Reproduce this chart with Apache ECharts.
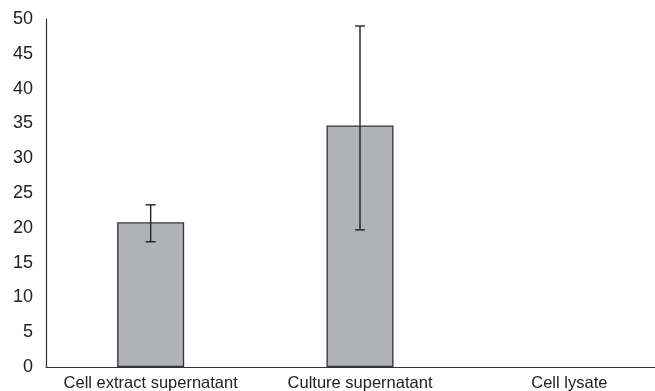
<!DOCTYPE html>
<html>
<head>
<meta charset="utf-8">
<script src="https://cdn.jsdelivr.net/npm/echarts@6/dist/echarts.min.js"></script>
<style>
  html, body { margin: 0; padding: 0; background: #fff; }
  #chart { width: 655px; height: 391px; }
</style>
</head>
<body>
<div id="chart"></div>
<script>
// Sample groups and their mean values with low/high error limits
const categories = ['Cell extract supernatant', 'Culture supernatant', 'Cell lysate'];
const means = [20.8, 34.7, 0];
const errLow = [18.0, 19.7, null];
const errHigh = [23.3, 49.0, null];
const yTicks = [0, 5, 10, 15, 20, 25, 30, 35, 40, 45, 50];

const errorData = categories.map((c, i) => [i, errLow[i], errHigh[i]]).filter(d => d[1] != null);
// a zero-height bar gets no outline
const barData = means.map(v => v === 0 ? { value: v, itemStyle: { borderWidth: 0 } } : v);

const chart = echarts.init(document.getElementById('chart'), null, { renderer: 'canvas' });

chart.setOption({
  animation: false,
  backgroundColor: '#ffffff',
  textStyle: { fontFamily: 'Liberation Sans, Arial, sans-serif' },
  grid: { left: 46, width: 628, top: 19, height: 348, containLabel: false, outerBoundsMode: 'none' },
  xAxis: {
    type: 'category',
    data: categories,
    axisLine: { show: true, lineStyle: { color: '#333', width: 1.2 } },
    axisTick: { show: false },
    axisLabel: { color: '#222', fontSize: 16.5, margin: 8, interval: 0 }
  },
  yAxis: {
    type: 'value',
    min: yTicks[0],
    max: yTicks[yTicks.length - 1],
    interval: 5,
    axisLine: { show: true, lineStyle: { color: '#333', width: 1.2 } },
    axisTick: { show: false },
    splitLine: { show: false },
    axisLabel: { color: '#222', fontSize: 18, margin: 13 }
  },
  series: [
    {
      type: 'bar',
      data: barData,
      barWidth: 67,
      itemStyle: { color: '#b1b2b6', borderColor: '#333', borderWidth: 1.3 }
    },
    {
      type: 'custom',
      data: errorData,
      z: 10,
      renderItem: function (params, api) {
        const x = api.value(0);
        const lo = api.coord([x, api.value(1)]);
        const hi = api.coord([x, api.value(2)]);
        const half = 5;
        const style = { stroke: '#222', lineWidth: 1.4 };
        return {
          type: 'group',
          children: [
            { type: 'line', shape: { x1: lo[0], y1: lo[1], x2: hi[0], y2: hi[1] }, style: style },
            { type: 'line', shape: { x1: lo[0] - half, y1: lo[1], x2: lo[0] + half, y2: lo[1] }, style: style },
            { type: 'line', shape: { x1: hi[0] - half, y1: hi[1], x2: hi[0] + half, y2: hi[1] }, style: style }
          ]
        };
      }
    }
  ]
});
</script>
</body>
</html>
